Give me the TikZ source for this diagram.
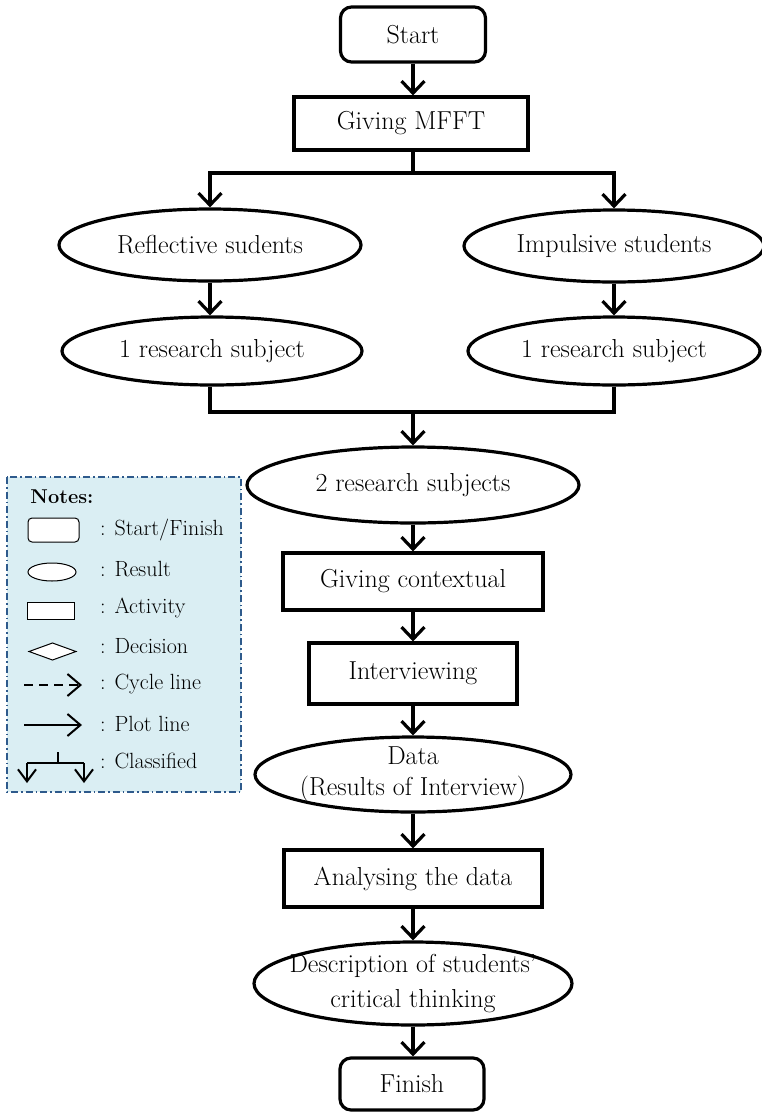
\documentclass[tikz,border=0pt]{standalone}
\usepackage{fontspec}
\usetikzlibrary{shapes.geometric,arrows.meta}
\definecolor{notefill}{HTML}{DAEEF3}
\definecolor{noteline}{HTML}{2E5A8C}

\begin{document}
\begin{tikzpicture}[x=1pt,y=-1pt,
  every node/.style={font=\fontsize{26}{31}\selectfont, inner sep=0pt, align=center},
  flow/.style={line width=3.2pt},
  arr/.style={flow, -{Straight Barb[length=12pt,width=23pt,line width=3.2pt]}},
  termbox/.style={draw, flow, rounded corners=11pt},
  actbox/.style={draw, flow},
  resbox/.style={draw, flow, ellipse, inner sep=-40pt},
  legtext/.style={font=\fontsize{22}{26}\selectfont, anchor=west},
  legline/.style={line width=2pt},
  legarr/.style={legline, -{Straight Barb[length=13pt,width=22pt,line width=2pt]}},
  legarrsmall/.style={legline, -{Straight Barb[length=12pt,width=18pt,line width=2pt]}}]

\useasboundingbox (0,0) rectangle (761,1112);

% ---- main flow ----
\node[termbox, minimum width=145pt, minimum height=55pt] (start) at (413,34.5) {Start};
\node[actbox, minimum width=234pt, minimum height=53pt] (mfft) at (411,123.5) {Giving MFFT};
\node[resbox, minimum width=302pt, minimum height=72pt] (refl) at (210,245) {Reflective sudents};
\node[resbox, minimum width=300pt, minimum height=72pt] (impl) at (614,246) {Impulsive students};
\node[resbox, minimum width=300pt, minimum height=68pt] (subL) at (212,351) {1 research subject};
\node[resbox, minimum width=292pt, minimum height=68pt] (subR) at (614,351) {1 research subject};
\node[resbox, minimum width=332pt, minimum height=76pt] (two) at (413,485) {2 research subjects};
\node[actbox, minimum width=260pt, minimum height=57pt] (ctx) at (413,581.5) {Giving contextual};
\node[actbox, minimum width=208pt, minimum height=61pt] (intv) at (413,673.5) {Interviewing};
\node[resbox, minimum width=316pt, minimum height=75pt] (data) at (413,774.5) {Data\\(Results of Interview)};
\node[actbox, minimum width=258pt, minimum height=57pt] (anal) at (413,878.5) {Analysing the data};
\node[resbox, minimum width=318pt, minimum height=83pt, font=\fontsize{26}{35}\selectfont] (desc) at (413,983.5) {Description of students'\\critical thinking};
\node[termbox, minimum width=144pt, minimum height=52pt] (fin) at (412,1084) {Finish};

\coordinate (split) at (413,173);
\coordinate (join) at (413,412);

\draw[arr] (start) -- (start |- mfft.north);
\draw[flow] (mfft.south -| split) -- (split);
\draw[arr] (split) -| (refl.north);
\draw[arr] (split) -| (impl.north);
\draw[arr] (refl.south) -- (refl.south |- subL.north);
\draw[arr] (impl.south) -- (impl.south |- subR.north);
\draw[flow] (subL.south -| refl.south) |- (join);
\draw[flow] (subR.south -| impl.south) |- (join);
\draw[arr] (join) -- (two.north -| join);
\draw[arr] (two.south) -- (ctx.north);
\draw[arr] (ctx.south) -- (intv.north);
\draw[arr] (intv.south) -- (data.north);
\draw[arr] (data.south) -- (anal.north);
\draw[arr] (anal.south) -- (desc.north);
\draw[arr] (desc.south) -- (fin.north -| desc.south);

% ---- notes panel ----
\draw[fill=notefill, draw=noteline, line width=1.6pt,
      dash pattern=on 7pt off 3pt on 1.5pt off 3pt]
  (7,477) rectangle (241,792);

\node[font=\fontsize{20}{24}\selectfont\bfseries] (notes) at (62,497) {Notes:};

\node[draw, line width=1pt, fill=white, rounded corners=4pt,
      minimum width=51pt, minimum height=24pt] (lgterm) at (53.5,530) {};
\node[legtext] (tterm) at (100,530) {: Start/Finish};

\node[draw, line width=1pt, fill=white, ellipse,
      minimum width=48pt, minimum height=18pt] (lgres) at (52,572) {};
\node[legtext] (tres) at (100,569) {: Result};

\node[draw, line width=1pt, fill=white,
      minimum width=47pt, minimum height=17pt] (lgact) at (50.5,610.5) {};
\node[legtext] (tact) at (100,608) {: Activity};

\draw[line width=1pt, fill=white] (29,651.5) -- (52.5,643) -- (76,651.5) -- (52.5,660) -- cycle;
\node[legtext] (tdec) at (100,646) {: Decision};

\coordinate (cyA) at (24,685);
\coordinate (cyB) at (82,685);
\draw[legarr, dash pattern=on 9pt off 6pt] (cyA) -- (cyB);
\node[legtext] (tcyc) at (100,684) {: Cycle line};

\coordinate (plA) at (24,725);
\coordinate (plB) at (82,725);
\draw[legarr] (plA) -- (plB);
\node[legtext] (tplot) at (100,724) {: Plot line};

\coordinate (clTop) at (58,752);
\coordinate (clMid) at (58,763);
\coordinate (clL) at (27,783);
\coordinate (clR) at (84,783);
\draw[line width=1.2pt] (clTop) -- (clMid);
\draw[line width=1.2pt] (clL |- clMid) -- (clR |- clMid);
\draw[legarrsmall] (clL |- clMid) -- (clL);
\draw[legarrsmall] (clR |- clMid) -- (clR);
\node[legtext] (tcls) at (100,761) {: Classified};

\end{tikzpicture}
\end{document}
